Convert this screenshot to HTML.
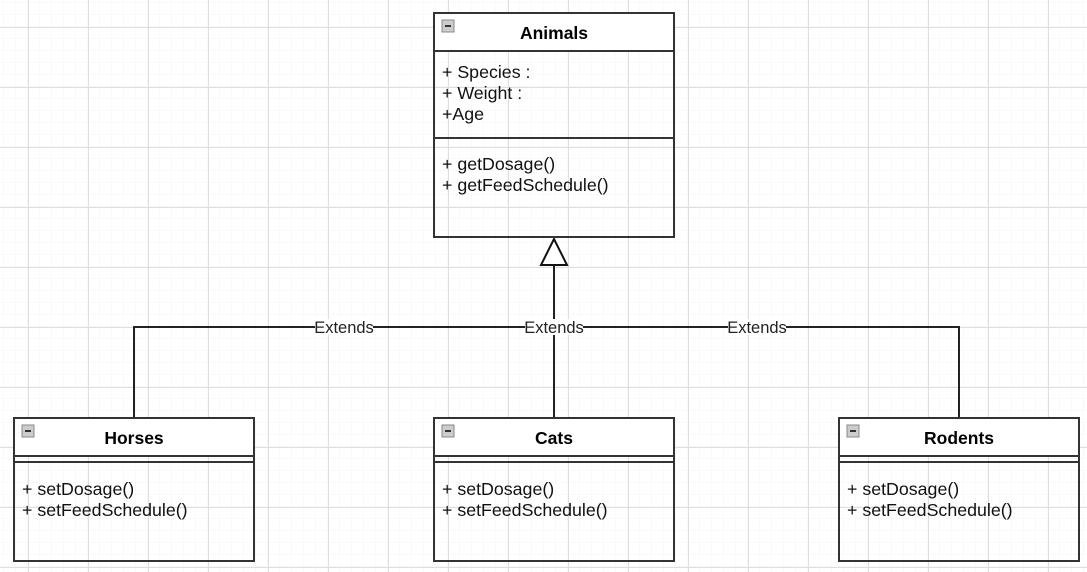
<!DOCTYPE html>
<html><head><meta charset="utf-8"><style>
html,body{margin:0;padding:0;background:#fff;}
svg{display:block;font-family:"Liberation Sans",Arial,sans-serif;}
</style></head><body>
<svg width="1087" height="572" viewBox="0 0 1087 572" xmlns="http://www.w3.org/2000/svg">
<defs>
<pattern id="minor" width="12" height="12" patternUnits="userSpaceOnUse" x="4" y="3">
<path d="M12 0V12M0 12H12" fill="none" stroke="#f3f3f3" stroke-width="1"/>
</pattern>
<pattern id="major" width="60" height="60" patternUnits="userSpaceOnUse" x="28" y="27">
<path d="M0.5 0V60M0 0.5H60" fill="none" stroke="#dedede" stroke-width="1"/>
</pattern>
</defs>
<rect width="1087" height="572" fill="#fff"/>
<rect width="1087" height="572" fill="url(#minor)"/>
<rect width="1087" height="572" fill="url(#major)"/>

<g stroke="#222" stroke-width="2" fill="none">
<path d="M134 418V327H959V418"/>
<path d="M554 418V265"/>
</g>
<polygon points="554,239 541,265 567,265" fill="#fff" stroke="#111" stroke-width="2"/>

<g font-size="16.5" fill="#222" text-anchor="middle">
<rect x="315" y="319" width="58" height="16" fill="#fff"/>
<text x="344" y="333">Extends</text>
<rect x="525" y="319" width="58" height="16" fill="#fff"/>
<text x="554" y="333">Extends</text>
<rect x="728" y="319" width="58" height="16" fill="#fff"/>
<text x="757" y="333">Extends</text>
</g>

<!-- Animals -->
<g stroke="#333" stroke-width="2">
<rect x="434" y="13" width="240" height="38" fill="#fff"/>
<rect x="434" y="13" width="240" height="224" fill="none"/>
<line x1="434" y1="138" x2="674" y2="138"/>
</g>
<rect x="442" y="20" width="12" height="12" fill="#ccc" stroke="#888"/>
<line x1="445" y1="26" x2="451" y2="26" stroke="#333" stroke-width="2"/>
<text x="554" y="39" font-size="17.5" font-weight="bold" text-anchor="middle" fill="#000">Animals</text>
<g font-size="17.8" fill="#111">
<text x="442" y="78">+ Species :</text>
<text x="442" y="99">+ Weight :</text>
<text x="442" y="120">+Age</text>
<text x="442" y="170">+ getDosage()</text>
<text x="442" y="191">+ getFeedSchedule()</text>
</g>

<g>
<g stroke="#333" stroke-width="2">
<rect x="14" y="418" width="240" height="38" fill="#fff"/>
<rect x="14" y="418" width="240" height="143" fill="none"/>
<line x1="14" y1="462" x2="254" y2="462"/>
</g>
<rect x="22" y="425" width="12" height="12" fill="#ccc" stroke="#888"/>
<line x1="25" y1="431" x2="31" y2="431" stroke="#333" stroke-width="2"/>
<text x="134" y="444" font-size="17.5" font-weight="bold" text-anchor="middle" fill="#000">Horses</text>
<text x="22" y="495" font-size="17.8" fill="#111">+ setDosage()</text>
<text x="22" y="516" font-size="17.8" fill="#111">+ setFeedSchedule()</text>
</g>
<g>
<g stroke="#333" stroke-width="2">
<rect x="434" y="418" width="240" height="38" fill="#fff"/>
<rect x="434" y="418" width="240" height="143" fill="none"/>
<line x1="434" y1="462" x2="674" y2="462"/>
</g>
<rect x="442" y="425" width="12" height="12" fill="#ccc" stroke="#888"/>
<line x1="445" y1="431" x2="451" y2="431" stroke="#333" stroke-width="2"/>
<text x="554" y="444" font-size="17.5" font-weight="bold" text-anchor="middle" fill="#000">Cats</text>
<text x="442" y="495" font-size="17.8" fill="#111">+ setDosage()</text>
<text x="442" y="516" font-size="17.8" fill="#111">+ setFeedSchedule()</text>
</g>
<g>
<g stroke="#333" stroke-width="2">
<rect x="839" y="418" width="240" height="38" fill="#fff"/>
<rect x="839" y="418" width="240" height="143" fill="none"/>
<line x1="839" y1="462" x2="1079" y2="462"/>
</g>
<rect x="847" y="425" width="12" height="12" fill="#ccc" stroke="#888"/>
<line x1="850" y1="431" x2="856" y2="431" stroke="#333" stroke-width="2"/>
<text x="959" y="444" font-size="17.5" font-weight="bold" text-anchor="middle" fill="#000">Rodents</text>
<text x="847" y="495" font-size="17.8" fill="#111">+ setDosage()</text>
<text x="847" y="516" font-size="17.8" fill="#111">+ setFeedSchedule()</text>
</g>
</svg>
</body></html>
